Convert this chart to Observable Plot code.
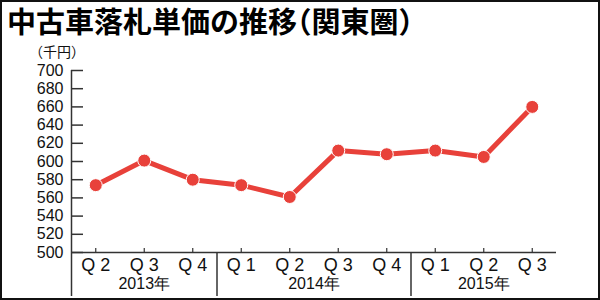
<!DOCTYPE html>
<html><head><meta charset="utf-8">
<script src="https://cdn.jsdelivr.net/npm/d3@7"></script>
<script src="https://cdn.jsdelivr.net/npm/@observablehq/plot@0.6"></script>
<style>
body{margin:0;background:#fff}
#wrap{position:relative;width:600px;height:300px;overflow:hidden;background:#fff}
#chart{position:absolute;left:0;top:0}
#title{position:absolute;left:7px;top:6px;font-family:"Noto Sans CJK JP","Noto Sans CJK SC",sans-serif;font-size:29px;line-height:29px;font-weight:700;color:#000;white-space:nowrap;font-feature-settings:"halt"}
#frame{position:absolute;left:0;top:0;width:600px;height:300px;box-sizing:border-box;border:2px solid #111;z-index:3}
</style></head><body>
<div id="wrap"><div id="chart"></div><div id="title">中古車落札単価の推移（関東圏）</div><div id="frame"></div></div>
<script>
const quarters = ["Q 2","Q 3","Q 4","Q 1","Q 2","Q 3","Q 4","Q 1","Q 2","Q 3"];
const years = [2013,2013,2013,2014,2014,2014,2014,2015,2015,2015];
const prices = [574,601,580,574,561,612,608,612,605,660];
const yTicks = [500,520,540,560,580,600,620,640,660,680,700];
const yDomain = [500,700];
const unitLabel = "（千円）";
const yearSuffix = "年";

const data = prices.map((v,i)=>({i, q: quarters[i], year: years[i], price: v}));
const boundaries = data.filter((d,i)=>i>0 && years[i]!==years[i-1]).map(d=>d.i-0.5);
const yearGroups = Array.from(d3.group(data, d=>d.year), ([year, rows])=>({year, center: d3.mean(rows, r=>r.i)}));

const axisColor = "#333";
const red = "#e8413a";
const base = () => yDomain[0];

const plot = Plot.plot({
  width: 600, height: 300,
  marginTop: 70, marginBottom: 48, marginLeft: 71, marginRight: 44,
  style: {background: "transparent", fontFamily: "'Liberation Sans', Arial, sans-serif", overflow: "visible", color: "#111"},
  x: {domain: [-0.5, data.length - 0.5], axis: null},
  y: {domain: yDomain},
  marks: [
    Plot.ruleX([-0.5], {stroke: axisColor, strokeWidth: 1.5, insetBottom: -44}),
    Plot.ruleX(boundaries, {y1: base, y2: base, insetBottom: -44, stroke: axisColor, strokeWidth: 1.5}),
    Plot.ruleY([yDomain[0]], {stroke: axisColor, strokeWidth: 1.5}),
    Plot.ruleY(yTicks, {x1: ()=>-0.5, x2: ()=>-0.5, insetRight: -12, stroke: axisColor, strokeWidth: 1.5}),
    Plot.ruleX(data, {x: "i", y1: base, y2: base, insetTop: -4, stroke: axisColor, strokeWidth: 1.2}),
    Plot.axisY({ticks: yTicks, tickSize: 0, tickPadding: 8, fontSize: 16, tickFormat: d=>String(d), label: null}),
    Plot.line(data, {x: "i", y: "price", stroke: red, strokeWidth: 5}),
    Plot.dot(data, {x: "i", y: "price", r: 6.5, fill: red, stroke: "white", strokeWidth: 1}),
    Plot.text(data, {x: "i", text: "q", frameAnchor: "bottom", lineAnchor: "middle", dy: 13, fontSize: 18}),
    Plot.text(yearGroups, {x: "center", text: d=>d.year + yearSuffix, frameAnchor: "bottom", lineAnchor: "middle", dy: 31, fontSize: 16}),
    Plot.text([unitLabel], {frameAnchor: "top-left", textAnchor: "middle", lineAnchor: "middle", dx: -14.5, dy: -17.5, fontSize: 14, fontFamily: "'Noto Sans CJK JP', sans-serif"})
  ]
});
document.getElementById("chart").appendChild(plot);
</script>
</body></html>
